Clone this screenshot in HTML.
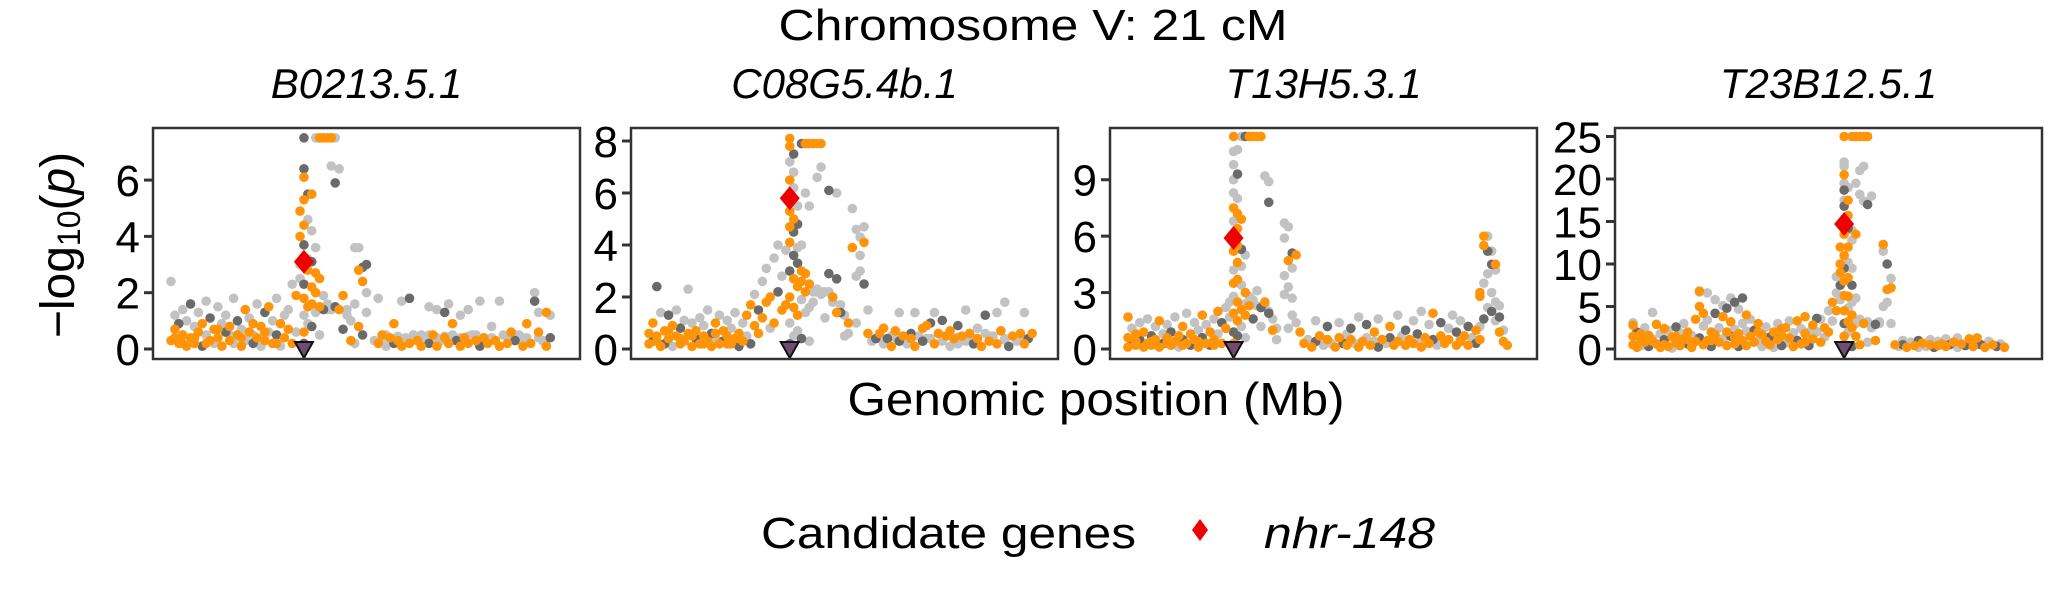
<!DOCTYPE html>
<html><head><meta charset="utf-8">
<style>
html,body{margin:0;padding:0;background:#fff;}
svg{display:block;font-family:"Liberation Sans",Arial,sans-serif;}
</style></head>
<body>
<svg id="chart" width="2066" height="590" viewBox="0 0 2066 590" xmlns="http://www.w3.org/2000/svg">
<text x="1033" y="40" font-size="44" text-anchor="middle" textLength="509" lengthAdjust="spacingAndGlyphs">Chromosome V: 21 cM</text>
<text transform="translate(74,245) rotate(-90)" font-size="48" text-anchor="middle">−log<tspan font-size="32" dy="6">10</tspan><tspan dy="-6">(</tspan><tspan font-style="italic">p</tspan>)</text>
<text x="1096" y="415" font-size="46" text-anchor="middle" textLength="497" lengthAdjust="spacingAndGlyphs">Genomic position (Mb)</text>
<g>
<text x="761" y="548" font-size="44" textLength="375" lengthAdjust="spacingAndGlyphs">Candidate genes</text>
<polygon points="1200,519 1208,530 1200,541 1192,530" fill="#ee0000"/>
<text x="1264" y="548" font-size="44" font-style="italic" textLength="171" lengthAdjust="spacingAndGlyphs">nhr-148</text>
</g>
<g id="panels"></g>
</svg>
<script>
// ---- data ----
const panelTitles = ["B0213.5.1","C08G5.4b.1","T13H5.3.1","T23B12.5.1"];
const panelLefts = [153,631,1110,1615];
const yMaxes = [7.85,8.5,11.75,26.0];
const yTicks1 = [0,2,4,6];
const yTicks2 = [0,2,4,6,8];
const yTicks3 = [0,3,6,9];
const yTicks4 = [0,5,10,15,20,25];
const geneX = [34,36,27,54];
const geneY = [3.1,5.8,5.9,14.7];

const p1Points = [[0,0.3,'o'],[1,0.7,'o'],[1,1.2,'g'],[2,0.2,'o'],[2,0.9,'d'],[3,1.4,'g'],[3,0.5,'o'],[4,0.1,'o'],[4,1.0,'g'],[5,0.4,'o'],[5,1.6,'d'],[6,0.8,'g'],[6,0.2,'o'],[7,0.6,'o'],[7,1.3,'g'],[8,0.1,'d'],[8,0.9,'o'],[9,0.5,'g'],[9,1.7,'g'],[10,0.3,'o'],[10,1.1,'d'],[11,0.7,'o'],[11,0.2,'g'],[12,1.5,'g'],[12,0.4,'o'],[13,0.9,'g'],[13,0.1,'o'],[14,0.6,'d'],[14,1.2,'g'],[15,0.3,'o'],[15,0.8,'o'],[16,1.8,'g'],[16,0.2,'g'],[17,0.5,'o'],[17,1.0,'d'],[18,0.1,'o'],[18,0.7,'g'],[19,1.4,'o'],[19,0.3,'g'],[20,0.6,'o'],[20,1.1,'g'],[21,0.2,'d'],[21,0.9,'o'],[22,1.6,'g'],[22,0.4,'o'],[23,0.1,'g'],[23,0.8,'o'],[24,1.3,'d'],[24,0.3,'o'],[25,0.6,'g'],[25,1.5,'o'],[26,0.2,'o'],[26,1.0,'g'],[27,0.5,'d'],[27,1.8,'g'],[28,0.9,'o'],[28,0.1,'g'],[29,1.2,'g'],[29,0.4,'o'],[30,0.7,'o'],[30,1.4,'g'],[31,0.2,'o'],[31,2.3,'g'],[32,1.9,'o'],[32,0.6,'g'],[0,2.4,'g'],[1,0.4,'o'],[3,0.2,'o'],[6,0.4,'o'],[9,0.2,'o'],[12,0.7,'o'],[15,0.5,'g'],[18,0.4,'o'],[21,0.5,'g'],[24,0.6,'o'],[27,0.2,'o'],
[33,2.5,'g'],[33,3.0,'g'],[33,4.0,'o'],[33,4.9,'o'],[34,7.5,'d'],[34,6.4,'d'],[34,6.1,'o'],[34,5.3,'o'],[34,4.4,'o'],[34,3.7,'d'],[34,2.3,'d'],[34,1.8,'o'],[34,1.2,'g'],[34,0.6,'o'],[34,0.2,'d'],[35,5.5,'d'],[35,4.6,'g'],[35,3.2,'g'],[35,2.8,'o'],[35,1.5,'o'],[35,0.9,'g'],[36,5.5,'o'],[36,4.2,'g'],[36,3.1,'d'],[36,2.2,'o'],[36,1.6,'o'],[36,0.8,'d'],
[37,7.5,'g'],[38,7.5,'o'],[39,7.5,'o'],[40,7.5,'o'],[41,7.5,'o'],[42,7.5,'g'],
[37,3.6,'g'],[37,2.7,'o'],[37,2.0,'o'],[37,1.3,'g'],[38,2.5,'o'],[38,1.5,'o'],[38,0.5,'g'],[39,1.9,'g'],[39,1.4,'d'],[40,1.6,'g'],[40,1.4,'g'],[41,1.4,'g'],[41,6.5,'g'],[42,1.5,'d'],[42,5.9,'d'],[43,1.4,'o'],[43,6.4,'g'],[44,1.9,'o'],[44,0.7,'d'],[45,1.4,'g'],[45,1.2,'g'],[46,1.0,'g'],
[47,3.6,'g'],[48,3.6,'g'],[48,2.8,'o'],[49,2.9,'d'],[49,2.4,'o'],[50,3.0,'d'],[50,2.0,'g'],[47,1.6,'g'],[48,0.8,'o'],[49,0.5,'d'],[50,1.3,'g'],[46,0.3,'o'],[47,0.2,'g'],
[52,0.3,'g'],[53,1.8,'g'],[53,0.2,'o'],[54,0.5,'o'],[55,0.1,'g'],[56,0.4,'o'],[57,0.2,'d'],[57,0.9,'o'],[58,0.3,'o'],[59,1.7,'g'],[59,0.1,'o'],[60,0.4,'g'],[61,1.8,'d'],[61,0.2,'o'],[62,0.5,'g'],[63,0.3,'o'],[64,0.1,'o'],[65,0.4,'g'],[66,1.5,'g'],[66,0.2,'d'],[67,0.5,'o'],[68,1.4,'g'],[68,0.1,'o'],[69,0.3,'g'],[70,1.3,'d'],[70,0.4,'o'],[71,1.6,'g'],[71,0.2,'o'],[72,0.9,'o'],[72,0.5,'g'],[73,0.3,'d'],[74,1.2,'g'],[74,0.1,'o'],[75,0.4,'o'],[76,1.4,'g'],[76,0.2,'o'],[77,0.5,'g'],[78,0.3,'o'],[79,1.7,'g'],[79,0.1,'d'],[80,0.4,'o'],[81,0.2,'o'],[82,0.8,'g'],[83,0.3,'o'],[84,1.7,'g'],[84,0.1,'o'],[85,0.5,'g'],[86,0.2,'o'],[87,0.6,'o'],[88,0.3,'d'],[89,0.5,'g'],[90,0.1,'o'],[91,0.9,'o'],[91,0.4,'g'],[92,0.2,'o'],[93,2.0,'g'],[93,1.7,'d'],[94,1.3,'g'],[94,0.6,'o'],[95,0.3,'g'],[96,1.3,'o'],[96,0.1,'o'],[97,1.2,'g'],[97,0.4,'d'],
[54,0.4,'g'],[58,0.45,'g'],[62,0.4,'g'],[66,0.5,'g'],[70,0.45,'g'],[74,0.4,'g'],[78,0.5,'g'],[82,0.4,'g'],[86,0.45,'g'],[90,0.4,'g'],[55,0.5,'g'],[60,0.35,'g'],[64,0.5,'g'],[68,0.4,'g'],[72,0.3,'g'],[76,0.45,'g'],[80,0.35,'g'],[88,0.5,'g'],[94,0.4,'g']];

const p2Points = [[0,0.2,'o'],[0,0.6,'o'],[1,1.0,'o'],[1,0.3,'d'],[2,2.4,'d'],[2,0.5,'o'],[3,0.1,'o'],[3,1.4,'g'],[4,0.7,'o'],[4,0.2,'d'],[5,1.3,'d'],[5,0.4,'o'],[6,0.9,'o'],[6,0.1,'g'],[7,1.5,'g'],[7,0.5,'o'],[8,0.2,'o'],[8,0.8,'d'],[9,1.1,'g'],[9,0.3,'o'],[10,0.6,'o'],[10,2.3,'g'],[11,0.1,'o'],[11,1.0,'g'],[12,0.4,'d'],[12,0.7,'o'],[13,1.2,'g'],[13,0.2,'o'],[14,0.5,'o'],[14,0.9,'g'],[15,1.5,'g'],[15,0.3,'o'],[16,0.6,'d'],[16,0.1,'o'],[17,1.0,'o'],[17,0.4,'g'],[18,0.2,'o'],[18,1.3,'g'],[19,0.7,'o'],[19,0.3,'d'],[20,1.1,'g'],[20,0.5,'o'],[21,0.2,'o'],[21,0.8,'g'],[22,1.4,'g'],[22,0.4,'o'],[23,0.1,'d'],[23,0.6,'o'],[24,1.0,'g'],[24,0.3,'o'],[25,1.3,'o'],[25,0.5,'g'],[26,1.7,'o'],[26,0.2,'d'],[27,2.1,'g'],[27,0.9,'o'],[28,1.5,'d'],[28,0.6,'o'],[29,2.6,'g'],[29,1.2,'o'],[30,3.1,'g'],[30,1.8,'o'],[31,2.0,'o'],[31,0.8,'g'],[32,3.5,'g'],[32,1.0,'o'],[33,4.0,'g'],[33,2.2,'d'],[34,2.8,'g'],[34,1.5,'o'],[35,3.8,'g'],[35,1.7,'o'],[2,0.3,'o'],[5,0.7,'o'],[8,0.4,'o'],[11,0.5,'o'],[14,0.2,'o'],[17,0.6,'o'],[20,0.2,'o'],[23,0.4,'o'],
[36,8.1,'o'],[36,7.8,'o'],[36,7.2,'g'],[36,6.5,'o'],[36,5.3,'o'],[36,4.7,'o'],[36,4.1,'o'],[36,3.0,'d'],[36,2.0,'o'],[36,1.0,'g'],[36,0.2,'d'],[37,7.5,'d'],[37,6.8,'g'],[37,6.2,'g'],[37,5.0,'o'],[37,4.5,'d'],[37,3.6,'d'],[37,2.7,'o'],[37,1.6,'o'],[37,0.5,'g'],[38,5.5,'g'],[38,4.8,'d'],[38,3.9,'g'],[38,3.3,'d'],[38,2.4,'o'],[38,1.3,'o'],[38,0.7,'g'],[39,4.0,'g'],[39,3.0,'o'],[39,2.6,'o'],[39,1.9,'g'],[39,0.4,'d'],
[39,7.9,'d'],[40,7.9,'o'],[41,7.9,'o'],[42,7.9,'o'],[43,7.9,'o'],[44,7.9,'o'],
[40,2.9,'o'],[40,2.2,'o'],[40,1.4,'g'],[41,2.5,'o'],[41,1.6,'g'],[41,0.3,'g'],[42,2.2,'g'],[42,1.8,'g'],[43,2.2,'g'],[43,2.3,'g'],[44,2.2,'g'],[44,2.1,'g'],[45,2.2,'g'],[45,1.2,'g'],[46,2.2,'g'],[46,2.9,'d'],[47,2.0,'o'],[47,1.8,'g'],[48,2.7,'d'],[48,1.4,'o'],[49,1.7,'g'],[49,1.4,'d'],[50,1.3,'g'],[50,0.5,'g'],[51,1.0,'o'],[51,0.6,'g'],[40,6.0,'g'],[41,5.5,'g'],[43,6.6,'g'],[44,7.0,'g'],[46,6.1,'d'],[48,6.0,'g'],
[52,5.4,'g'],[53,4.6,'g'],[54,4.3,'g'],[55,4.1,'o'],[54,3.0,'g'],[53,2.8,'g'],[55,2.5,'d'],[56,1.5,'g'],[54,3.6,'g'],[55,4.7,'g'],[52,3.9,'o'],[53,1.0,'g'],[56,0.6,'o'],[57,0.3,'g'],
[58,0.4,'d'],[59,0.6,'o'],[60,0.2,'g'],[60,0.8,'o'],[61,0.4,'d'],[62,0.5,'g'],[62,0.1,'o'],[63,0.7,'o'],[64,0.3,'d'],[64,1.4,'g'],[65,0.5,'o'],[66,0.2,'g'],[67,0.6,'d'],[67,0.4,'o'],[68,1.4,'g'],[68,0.1,'o'],[69,0.5,'g'],[70,0.8,'o'],[70,0.3,'d'],[71,0.9,'o'],[72,0.4,'g'],[72,1.0,'d'],[73,0.2,'o'],[73,1.4,'g'],[74,0.6,'o'],[75,0.3,'g'],[75,1.1,'d'],[76,0.5,'o'],[77,0.1,'g'],[77,0.7,'o'],[78,0.4,'o'],[79,0.2,'g'],[79,0.9,'d'],[80,0.5,'o'],[81,0.3,'g'],[81,1.5,'g'],[82,0.6,'o'],[83,0.2,'d'],[84,0.8,'g'],[84,0.4,'o'],[85,0.1,'o'],[86,0.6,'g'],[86,1.3,'d'],[87,0.3,'o'],[88,0.5,'g'],[89,0.2,'o'],[89,1.4,'g'],[90,0.7,'o'],[91,0.4,'g'],[91,1.8,'g'],[92,0.1,'d'],[93,0.5,'o'],[94,0.3,'g'],[95,0.6,'o'],[96,0.2,'o'],[96,1.4,'g'],[97,0.4,'d'],[98,0.6,'o'],
[59,0.4,'g'],[63,0.45,'g'],[67,0.5,'g'],[71,0.4,'g'],[75,0.5,'g'],[79,0.45,'g'],[83,0.4,'g'],[87,0.5,'g'],[91,0.35,'g'],[95,0.45,'g']];

const p3Points = [[0,0.1,'o'],[0,0.6,'o'],[0,1.7,'o'],[1,0.3,'d'],[1,1.1,'g'],[2,0.8,'o'],[2,0.2,'o'],[3,1.4,'g'],[3,0.5,'d'],[4,0.1,'o'],[4,0.9,'o'],[5,1.6,'g'],[5,0.3,'o'],[6,0.7,'d'],[6,0.2,'o'],[7,1.2,'g'],[7,0.5,'o'],[8,0.1,'o'],[8,1.5,'o'],[9,0.8,'g'],[9,0.3,'d'],[10,0.6,'o'],[10,1.3,'g'],[11,0.2,'o'],[11,0.9,'d'],[12,1.7,'g'],[12,0.4,'o'],[13,0.7,'o'],[13,0.1,'g'],[14,1.2,'o'],[14,0.5,'d'],[15,0.3,'o'],[15,1.9,'g'],[16,0.8,'o'],[16,0.2,'d'],[17,1.4,'g'],[17,0.5,'o'],[18,0.1,'o'],[18,1.0,'g'],[19,0.6,'d'],[19,1.8,'o'],[20,0.3,'o'],[20,1.3,'g'],[21,0.9,'o'],[21,0.2,'d'],[22,1.6,'g'],[22,0.5,'o'],[23,2.0,'o'],[23,0.8,'g'],[24,1.4,'d'],[24,0.3,'o'],[25,2.2,'g'],[25,1.1,'o'],[26,1.7,'g'],[26,2.5,'g'],[2,0.4,'o'],[6,0.4,'o'],[10,0.3,'o'],[14,0.2,'o'],[18,0.4,'o'],[22,0.2,'o'],
[27,11.3,'o'],[27,10.5,'g'],[27,9.8,'g'],[27,9.0,'g'],[27,8.3,'g'],[27,7.5,'o'],[27,6.8,'g'],[27,5.2,'o'],[27,4.2,'g'],[27,3.5,'o'],[27,2.8,'g'],[27,1.9,'o'],[27,0.9,'d'],[27,0.3,'o'],[28,10.6,'g'],[28,9.3,'d'],[28,8.0,'g'],[28,7.2,'o'],[28,6.4,'o'],[28,5.5,'o'],[28,4.6,'o'],[28,3.7,'o'],[28,2.5,'o'],[28,1.5,'o'],[28,0.7,'d'],[29,6.9,'o'],[29,5.3,'d'],[29,4.4,'g'],[29,3.4,'g'],[29,2.1,'o'],[29,1.2,'g'],[30,5.0,'g'],[30,3.0,'o'],[30,2.4,'g'],[30,1.8,'o'],[30,0.6,'g'],
[29,11.3,'g'],[30,11.3,'d'],[31,11.3,'o'],[32,11.3,'o'],[33,11.3,'o'],[34,11.3,'o'],
[31,2.8,'g'],[31,2.3,'o'],[32,2.6,'g'],[32,1.6,'d'],[33,2.3,'g'],[33,3.1,'g'],[34,2.2,'d'],[34,1.2,'g'],[35,2.3,'g'],[35,2.5,'o'],[36,2.0,'g'],[36,1.9,'d'],[37,1.6,'g'],[37,1.0,'o'],[38,1.1,'g'],[38,0.5,'g'],[35,9.2,'g'],[36,8.9,'g'],[36,7.8,'d'],
[40,6.7,'g'],[41,6.5,'g'],[40,5.9,'g'],[42,5.1,'d'],[41,4.7,'o'],[43,5.0,'o'],[42,4.3,'g'],[40,3.9,'g'],[41,3.3,'g'],[40,2.9,'g'],[42,2.7,'g'],[42,1.8,'g'],[43,1.4,'g'],[41,1.1,'g'],[44,0.9,'o'],
[45,0.3,'o'],[46,0.5,'g'],[47,0.1,'o'],[48,1.5,'g'],[48,0.4,'d'],[49,0.7,'o'],[50,0.2,'g'],[51,1.2,'d'],[51,0.5,'o'],[52,0.3,'g'],[53,0.1,'o'],[54,1.4,'g'],[54,0.6,'o'],[55,0.3,'d'],[56,0.8,'g'],[56,0.2,'o'],[57,1.1,'d'],[57,0.5,'o'],[58,0.3,'g'],[59,1.7,'g'],[59,0.1,'o'],[60,0.4,'o'],[61,1.3,'d'],[61,0.6,'g'],[62,0.2,'o'],[63,0.9,'o'],[63,0.4,'g'],[64,1.6,'g'],[64,0.1,'d'],[65,0.5,'o'],[66,0.3,'g'],[67,1.2,'o'],[67,0.6,'d'],[68,0.2,'o'],[69,1.8,'g'],[69,0.4,'o'],[70,0.7,'g'],[71,0.2,'o'],[71,1.0,'d'],[72,0.5,'o'],[73,1.5,'g'],[73,0.3,'o'],[74,0.8,'d'],[75,0.1,'o'],[75,2.0,'g'],[76,0.6,'o'],[77,1.3,'g'],[77,0.3,'o'],[78,1.9,'o'],[78,0.5,'d'],[79,0.2,'g'],[80,1.4,'d'],[80,0.7,'o'],[81,0.3,'o'],[82,1.1,'g'],[82,0.5,'o'],[83,1.8,'g'],[84,0.2,'o'],[84,0.9,'d'],[85,1.5,'g'],[85,0.4,'o'],[86,0.7,'o'],[87,1.2,'d'],[87,0.2,'o'],[88,0.6,'g'],[89,1.0,'o'],[89,0.3,'d'],
[90,2.8,'o'],[90,3.0,'o'],[91,6.0,'o'],[91,5.5,'o'],[91,3.5,'g'],[91,1.6,'d'],[92,6.0,'g'],[92,5.2,'d'],[92,4.0,'g'],[92,2.2,'g'],[93,5.2,'g'],[93,4.5,'d'],[93,3.0,'g'],[93,2.0,'d'],[94,4.5,'o'],[94,4.2,'g'],[94,2.5,'g'],[94,1.5,'g'],[95,2.3,'g'],[95,1.7,'d'],[95,0.9,'o'],[96,1.0,'g'],[96,0.4,'o'],[97,0.2,'o'],[90,1.2,'g'],[90,0.5,'o'],
[46,0.4,'g'],[50,0.5,'g'],[55,0.45,'g'],[60,0.4,'g'],[65,0.5,'g'],[70,0.4,'g'],[75,0.45,'g'],[80,0.4,'g'],[85,0.5,'g']];

const p4Points = [[0,0.5,'o'],[0,1.5,'o'],[0,2.8,'o'],[0,3.1,'g'],[1,0.2,'o'],[1,2.0,'d'],[2,1.0,'o'],[2,0.4,'g'],[3,2.5,'g'],[3,0.8,'o'],[4,1.6,'o'],[4,0.3,'d'],[5,4.3,'g'],[5,1.2,'g'],[6,0.6,'o'],[6,2.9,'o'],[7,0.2,'o'],[7,1.8,'g'],[8,1.1,'d'],[8,0.5,'o'],[9,2.2,'g'],[9,0.3,'o'],[10,1.4,'o'],[10,0.1,'g'],[11,0.7,'o'],[11,2.6,'d'],[12,1.9,'g'],[12,0.4,'o'],[13,1.2,'o'],[13,3.0,'g'],[14,0.6,'d'],[14,2.0,'o'],[15,1.6,'g'],[15,0.2,'o'],[16,0.9,'o'],[16,3.5,'o'],[17,6.8,'o'],[17,6.7,'g'],[17,5.0,'o'],[17,1.3,'d'],[18,4.2,'o'],[18,2.7,'g'],[18,0.5,'o'],[19,6.6,'g'],[19,3.4,'g'],[19,1.0,'o'],[20,2.0,'o'],[20,0.3,'d'],[21,5.8,'g'],[21,4.2,'d'],[21,1.7,'o'],[22,2.5,'g'],[22,0.8,'o'],[23,5.1,'g'],[23,3.8,'o'],[23,1.2,'g'],[24,4.8,'d'],[24,2.0,'o'],[24,0.4,'o'],[25,6.0,'g'],[25,3.2,'o'],[25,1.5,'d'],[26,5.5,'d'],[26,2.3,'g'],[26,0.6,'o'],[27,4.7,'g'],[27,1.8,'o'],[27,0.3,'d'],[28,6.0,'d'],[28,3.0,'g'],[28,1.0,'o'],[29,4.0,'o'],[29,2.1,'g'],[29,0.4,'o'],[30,3.5,'g'],[30,1.5,'o'],[31,2.2,'d'],[31,0.8,'o'],[32,1.0,'g'],[32,3.0,'o'],[33,1.7,'o'],[33,0.3,'g'],[34,2.6,'g'],[34,0.9,'o'],[35,1.4,'d'],[35,0.5,'o'],[36,2.0,'o'],[36,0.2,'g'],[37,3.0,'g'],[37,1.1,'o'],[38,1.6,'o'],[38,0.4,'d'],[39,2.5,'o'],[39,0.7,'g'],[40,3.3,'g'],[40,1.3,'o'],[41,1.9,'g'],[41,0.3,'o'],[42,3.3,'o'],[42,1.0,'d'],[43,2.4,'g'],[43,0.6,'o'],[44,3.8,'o'],[44,1.8,'o'],[45,2.0,'g'],[45,0.4,'d'],[46,2.8,'o'],[46,1.2,'o'],[47,3.6,'d'],[47,2.0,'g'],[48,3.5,'g'],[48,0.8,'o'],[49,2.5,'o'],[49,1.4,'g'],[50,4.5,'g'],[50,2.0,'o'],[51,5.5,'o'],[51,3.3,'g'],[52,6.6,'g'],[52,4.5,'o'],[52,8.5,'g'],[53,12.0,'o'],[53,10.0,'o'],[53,9.0,'o'],[53,7.5,'d'],[53,5.8,'g'],
[2,1.8,'o'],[5,0.9,'o'],[8,2.4,'o'],[11,1.5,'o'],[14,1.1,'o'],[20,1.0,'o'],[26,1.4,'o'],[32,2.0,'o'],[38,2.4,'o'],[44,0.8,'o'],
[54,25.0,'o'],[54,22.0,'g'],[54,21.5,'g'],[54,20.5,'o'],[54,19.5,'g'],[54,18.7,'d'],[54,17.5,'g'],[54,16.8,'d'],[54,15.0,'o'],[54,13.5,'o'],[54,11.0,'o'],[54,9.5,'d'],[54,8.0,'o'],[54,6.3,'o'],[54,4.5,'o'],[54,3.0,'d'],[54,1.5,'o'],[54,0.5,'d'],[55,19.0,'g'],[55,17.5,'o'],[55,15.7,'o'],[55,14.2,'d'],[55,12.0,'o'],[55,10.2,'g'],[55,8.4,'o'],[55,6.2,'o'],[55,4.8,'g'],[55,3.2,'o'],[55,2.0,'g'],[56,14.0,'g'],[56,12.8,'g'],[56,9.5,'g'],[56,7.5,'d'],[56,5.5,'g'],[56,4.0,'o'],[56,2.5,'o'],[56,0.3,'d'],[57,13.5,'o'],[57,6.0,'g'],[57,3.0,'g'],[57,1.5,'o'],
[56,25,'o'],[57,25,'o'],[58,25,'o'],[59,25,'o'],[60,25,'o'],
[57,19.5,'g'],[58,18.2,'g'],[59,17.4,'g'],[58,21.0,'g'],[59,21.5,'g'],[60,17.0,'d'],[61,18.0,'g'],
[58,3.5,'g'],[59,3.0,'o'],[60,3.2,'g'],[61,2.5,'g'],[62,2.9,'d'],[63,3.2,'g'],[64,11.5,'g'],[64,12.3,'o'],[65,10.0,'d'],[65,7.0,'o'],[65,5.5,'g'],[66,7.2,'o'],[66,8.3,'g'],[64,5.0,'g'],[63,3.0,'g'],[66,3.0,'g'],[62,1.0,'o'],[60,0.8,'g'],[58,0.5,'o'],
[67,0.5,'o'],[68,0.3,'g'],[69,1.0,'g'],[69,0.5,'d'],[70,0.2,'o'],[71,0.8,'g'],[72,0.4,'o'],[73,1.0,'d'],[73,0.2,'g'],[74,0.7,'o'],[75,0.3,'g'],[76,1.1,'g'],[76,0.5,'o'],[77,0.2,'d'],[78,0.9,'g'],[78,0.4,'o'],[79,0.6,'o'],[80,1.2,'g'],[80,0.3,'o'],[81,0.5,'d'],[82,0.8,'o'],[83,0.2,'g'],[83,1.3,'g'],[84,0.6,'o'],[85,0.4,'d'],[86,1.2,'o'],[86,0.7,'g'],[87,0.3,'o'],[88,1.3,'o'],[88,0.9,'g'],[89,0.5,'d'],[90,0.2,'o'],[91,0.9,'g'],[92,0.5,'o'],[93,0.3,'d'],[94,0.6,'g'],[95,0.2,'o']];

// ---- rendering ----
const NS = "http://www.w3.org/2000/svg";
const PW = 427, TOP = 128, BOT = 359, Y0 = 349;
const allPoints = [p1Points,p2Points,p3Points,p4Points];
const allTicks = [yTicks1,yTicks2,yTicks3,yTicks4];
const colorMap = {g:"#c2c2c2", d:"#6a6a6a", o:"#ff9408"};
const root = document.getElementById("panels");
function mk(tag, attrs, parent){ const e=document.createElementNS(NS,tag); for(const k in attrs) e.setAttribute(k,attrs[k]); parent.appendChild(e); return e; }

for(let i=0;i<4;i++){
  const L = panelLefts[i];
  const xs = v => L + 18 + v/100*(PW-36);
  const ys = v => Y0 - v*(Y0-TOP)/yMaxes[i];
  const g = mk("g",{},root);
  
  
  const t = mk("text",{x:L+PW/2,y:98,"font-size":42,"font-style":"italic","text-anchor":"middle"},g);
  t.textContent = panelTitles[i];
  
  
  allTicks[i].forEach(v=>{
    const y = ys(v);
    const tk = mk("line",{x1:L-9,x2:L,y1:y,y2:y,stroke:"#333","stroke-width":3},g);
    
    
    const lb = mk("text",{x:L-13,y:y+16,"font-size":44,"text-anchor":"end"},g);
    lb.textContent = v;
    
    
  });
  ['g','d','o'].forEach(c=>{
    allPoints[i].forEach(p=>{
      if(p[2]!==c) return;
      const dot = mk("circle",{cx:xs(p[0]),cy:ys(p[1]),r:4.8,fill:colorMap[c]},g);
      
      
    });
  });
  const gx = xs(geneX[i]);
  const tri = mk("polygon",{points:`${gx-9},${Y0-7} ${gx+9},${Y0-7} ${gx},${Y0+9}`,fill:"#6e4d70",stroke:"#111","stroke-width":2},g);
  
  
  const gy = ys(geneY[i]);
  const dia = mk("polygon",{points:`${gx},${gy-12} ${gx+10},${gy} ${gx},${gy+12} ${gx-10},${gy}`,fill:"#ee0000"},g);
  
  
  const fr = mk("rect",{x:L,y:TOP,width:PW,height:BOT-TOP,fill:"none",stroke:"#333","stroke-width":2.5},g);
  
  
}
</script>
</body></html>
